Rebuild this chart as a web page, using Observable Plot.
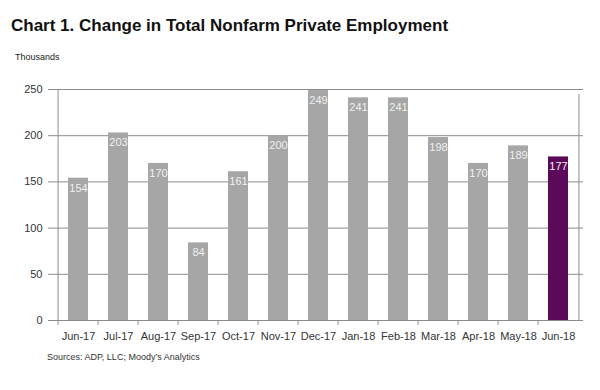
<!DOCTYPE html>
<html><head><meta charset="utf-8">
<script src="https://cdn.jsdelivr.net/npm/d3@7"></script>
<script src="https://cdn.jsdelivr.net/npm/@observablehq/plot@0.6"></script>
<style>
body{margin:0;background:#fff;font-family:"Liberation Sans",Arial,sans-serif;}
#wrap{position:relative;width:600px;height:390px;overflow:hidden;}
#title{position:absolute;left:11px;top:16px;font-size:17px;line-height:20px;font-weight:bold;color:#111;}
#unit{position:absolute;left:15px;top:52px;font-size:9px;color:#222;}
#src{position:absolute;left:47px;top:352px;font-size:9px;color:#333;}
#chart{position:absolute;left:0;top:75px;}
</style></head>
<body><div id="wrap">
<div id="title">Chart 1. Change in Total Nonfarm Private Employment</div>
<div id="unit">Thousands</div>
<div id="chart"></div>
<div id="src">Sources: ADP, LLC; Moody’s Analytics</div>
</div>
<script>
const months = ["Jun-17","Jul-17","Aug-17","Sep-17","Oct-17","Nov-17","Dec-17","Jan-18","Feb-18","Mar-18","Apr-18","May-18","Jun-18"];
const values = [154,203,170,84,161,200,249,241,241,198,170,189,177];
const highlight = ["Jun-18"];
const yTicks = [0,50,100,150,200,250];

const data = months.map((m,i)=>({month:m, value:values[i], hi: highlight.includes(m)}));
const W = 600, mL = 52, mR = 17;
const step = (W - mL - mR) / months.length;

const chart = Plot.plot({
  width: W, height: 275,
  marginTop: 14, marginBottom: 30, marginLeft: mL, marginRight: mR,
  style: {fontFamily: '"Liberation Sans", Arial, sans-serif', fontSize: "11px", color: "#333", background: "#fff"},
  x: {domain: months, paddingInner: 0.5, paddingOuter: 0.25, label: null},
  y: {domain: [0,250], ticks: yTicks, label: null},
  marks: [
    Plot.ruleY(yTicks, {stroke: "#8c8c8c", strokeWidth: 1}),
    Plot.ruleX([months[months.length-1]], {y1: 0, y2: 250, dx: step/2, stroke: "#8c8c8c", insetBottom: -5}),
    Plot.barY(data, {x: "month", y: "value", fill: d => d.hi ? "#5a0a58" : "#a6a6a6"}),
    Plot.text(data, {x: "month", y: "value", text: d => String(d.value), dy: 10, fill: "#f0f0f0", fontSize: 11}),
    Plot.axisY({ticks: yTicks, tickSize: 4, tickPadding: 6, stroke: "#8c8c8c", fill: "#333", fontSize: 11}),
    Plot.ruleY([0], {stroke: "#8c8c8c"}),
    Plot.axisX({tickSize: 5, dx: -step/2, text: null, stroke: "#8c8c8c"}),
    Plot.axisX({tickSize: 0, tickPadding: 12, fill: "#333", fontSize: 11}),
    Plot.ruleX([months[0]], {y1: 0, y2: 250, dx: -step/2, stroke: "#8c8c8c"})
  ]
});
document.getElementById("chart").appendChild(chart);
</script>
</body></html>
